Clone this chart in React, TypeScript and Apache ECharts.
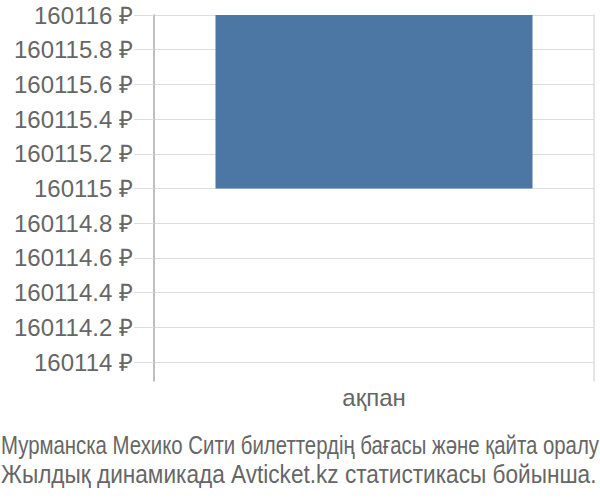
import { useEffect, useRef } from "react";
import * as echarts from "echarts";

// Chart data
const categories = ["ақпан"];
const priceLow = [160115];
const priceHigh = [160116];
const yMin = 160114;
const yMax = 160116;
const yStep = 0.2;
const captionLines = [
  "Мурманска Мехико Сити билеттердің бағасы және қайта оралу",
  "Жылдық динамикада Avticket.kz статистикасы бойынша.",
];
// width each caption line takes in the picture (condensed font)
const captionWidths = [598, 596];

const TEXT = "#666";
const GRID = "#ddd";
const FONT = "Liberation Sans, Arial, sans-serif";
const CAPTION_FONT = `25px ${FONT}`;

function textWidth(text: string, font: string): number {
  const ctx = document.createElement("canvas").getContext("2d");
  if (!ctx) return text.length * 12;
  ctx.font = font;
  return ctx.measureText(text).width;
}

export default function App() {
  const chartRef = useRef<HTMLDivElement>(null);

  useEffect(() => {
    if (!chartRef.current) return;
    const chart = echarts.init(chartRef.current, null, { renderer: "svg" });

    chart.setOption({
      animation: false,
      backgroundColor: "#fff",
      grid: [
        { left: 154, right: 6, top: 15, height: 347 },
        // taller frame for the vertical border lines
        { left: 154, right: 6, top: 15, height: 366 },
      ],
      xAxis: [
        {
          type: "category",
          gridIndex: 0,
          data: categories,
          axisLine: { show: false },
          axisTick: { show: false },
          axisLabel: {
            color: TEXT,
            fontFamily: FONT,
            fontSize: 24,
            margin: 23,
          },
        },
        { type: "category", gridIndex: 1, data: categories, show: false },
      ],
      yAxis: [
        {
          type: "value",
          gridIndex: 0,
          min: yMin,
          max: yMax,
          interval: yStep,
          axisLine: { show: false },
          axisTick: { show: true, length: 20, lineStyle: { color: GRID } },
          splitLine: { lineStyle: { color: GRID, width: 1 } },
          axisLabel: {
            color: TEXT,
            fontFamily: FONT,
            fontSize: 24,
            margin: 21,
            formatter: (v: number) => `${Number(v.toFixed(1))} ₽`,
          },
        },
        {
          type: "value",
          gridIndex: 1,
          position: "left",
          axisLine: { show: true, lineStyle: { color: "#aaa", width: 1.5 } },
          axisTick: { show: false },
          axisLabel: { show: false },
          splitLine: { show: false },
        },
        {
          type: "value",
          gridIndex: 1,
          position: "right",
          axisLine: { show: true, lineStyle: { color: GRID, width: 1.5 } },
          axisTick: { show: false },
          axisLabel: { show: false },
          splitLine: { show: false },
        },
      ],
      series: [
        {
          type: "bar",
          stack: "price",
          data: priceLow,
          barWidth: 317,
          itemStyle: { color: "transparent" },
          silent: true,
        },
        {
          type: "bar",
          stack: "price",
          data: priceHigh.map((h, i) => h - priceLow[i]),
          barWidth: 317,
          itemStyle: { color: "#4c77a5" },
        },
      ],
      graphic: captionLines.map((line, i) => ({
        type: "text",
        x: 1,
        y: 433 + i * 29,
        scaleX: captionWidths[i] / textWidth(line, CAPTION_FONT),
        style: {
          text: line,
          fill: TEXT,
          font: CAPTION_FONT,
        },
      })),
    });

    return () => chart.dispose();
  }, []);

  return (
    <div
      ref={chartRef}
      style={{ width: 600, height: 500, position: "absolute", left: 0, top: 0 }}
    />
  );
}
